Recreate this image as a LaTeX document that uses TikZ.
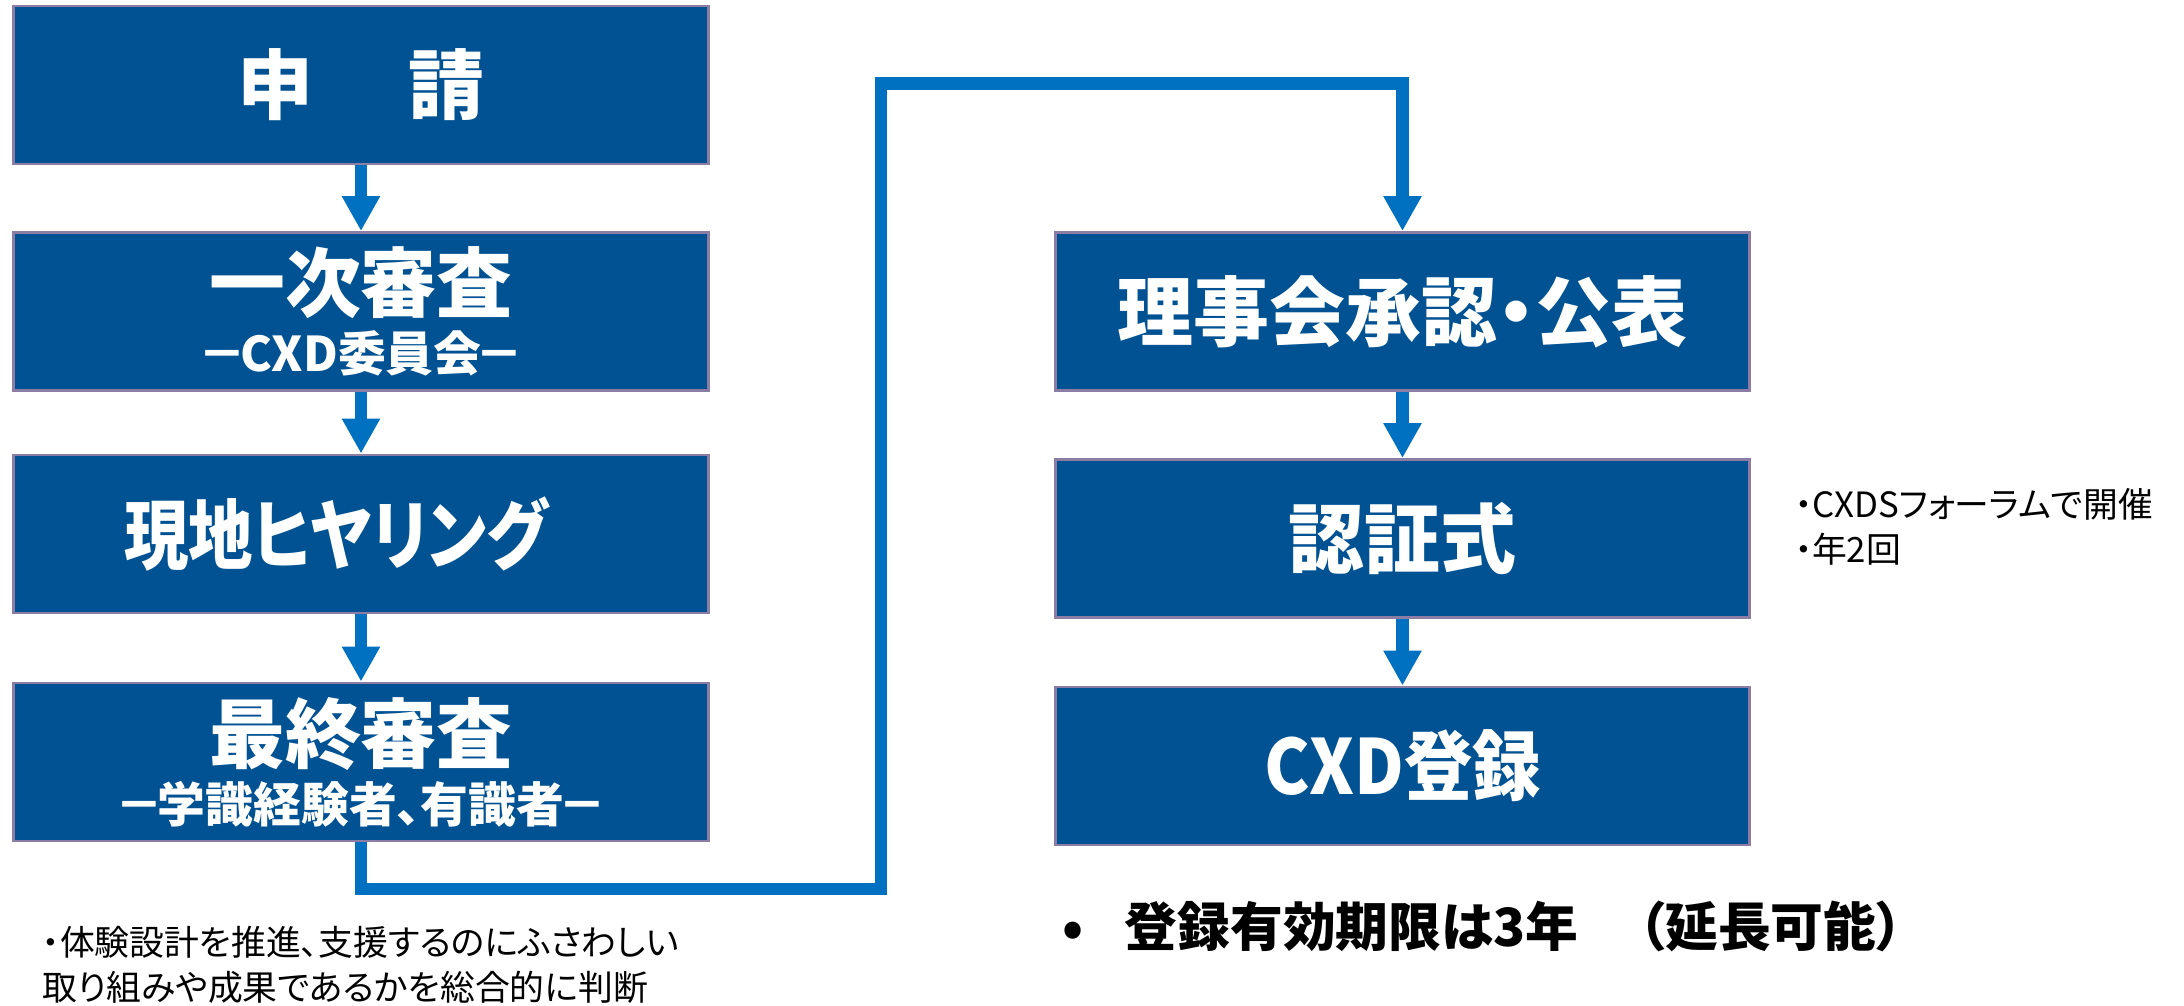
\documentclass[tikz,border=0pt]{standalone}
\usepackage{fontspec}
\setmainfont{Noto Sans CJK JP}[RawFeature=+palt]
\usetikzlibrary{arrows.meta}

\definecolor{boxblue}{RGB}{0,82,147}
\definecolor{boxrim}{RGB}{140,125,165}
\definecolor{flowblue}{RGB}{0,112,192}

\newcommand\stagesub[1]{{\fontsize{13.6}{17}\selectfont －\hspace{-0.12em}#1\hspace{-0.12em}－}}

\begin{document}
\begin{tikzpicture}[x=0.01cm, y=-0.01cm, >={Triangle[width=0.36cm,length=0.35cm]}]
    \tikzstyle{stage}=[rectangle, draw=boxrim, line width=0.8pt, fill=boxblue, text=white, minimum width=6.94cm, minimum height=1.58cm, inner sep=0pt, align=center, font=\bfseries\fontsize{21.6}{17}\selectfont]
    \tikzstyle{flow}=[draw=flowblue, line width=0.125cm, ->]
    \tikzstyle{note}=[inner sep=0pt, align=left, font=\fontsize{9.9}{12.9}\selectfont]

    \useasboundingbox (0,0) rectangle (2184,1006);

    % Left column: application and reviews
    \node[stage] (L-1) at (361,85) {申\hspace{1.25em}請};
    \node[stage] (L-2) at (361,311.5) {一次審査\\\stagesub{CXD委員会}};
    \node[stage] (L-3) at (361,534) {\scalebox{0.85}[1]{現地ヒヤリング}\hspace{0.5cm}};
    \node[stage] (L-4) at (361,762) {最終審査\\\stagesub{学識経験者、有識者}};

    % Right column: approval and registration
    \node[stage] (R-1) at (1402.5,311.5) {理事会承認・公表};
    \node[stage] (R-2) at (1402.5,538.5) {認証式};
    \node[stage] (R-3) at (1402.5,766) {\scalebox{0.9}[1]{CXD登録}};

    % Connect the boxes of each column
    \foreach \a/\b in {1/2,2/3,3/4}
        \draw[flow] (L-\a) -- (L-\b);
    \foreach \a/\b in {1/2,2/3}
        \draw[flow] (R-\a) -- (R-\b);

    % Route from the final review up to the board approval
    \coordinate (turn-low) at (881,889);
    \coordinate (turn-high) at (881,83.5);
    \draw[flow] (L-4.south) |- (turn-low) -- (turn-high) -| (R-1.north);

    % Notes
    \node[note, anchor=west] (forum-note) at (1794,527) {・CXDSフォーラムで開催\\・年2回};
    \node[note, anchor=west] (judge-note) at (42,965) {・体験設計を推進、支援するのにふさわしい\\取り組みや成果であるかを総合的に判断};
    \node[anchor=west, inner sep=0pt, font=\bfseries\fontsize{15}{18}\selectfont] (term-note) at (1062,926) {•\hspace{0.78em}登録有効期限は3年\hspace{1.15em}（延長可能）};
\end{tikzpicture}
\end{document}
